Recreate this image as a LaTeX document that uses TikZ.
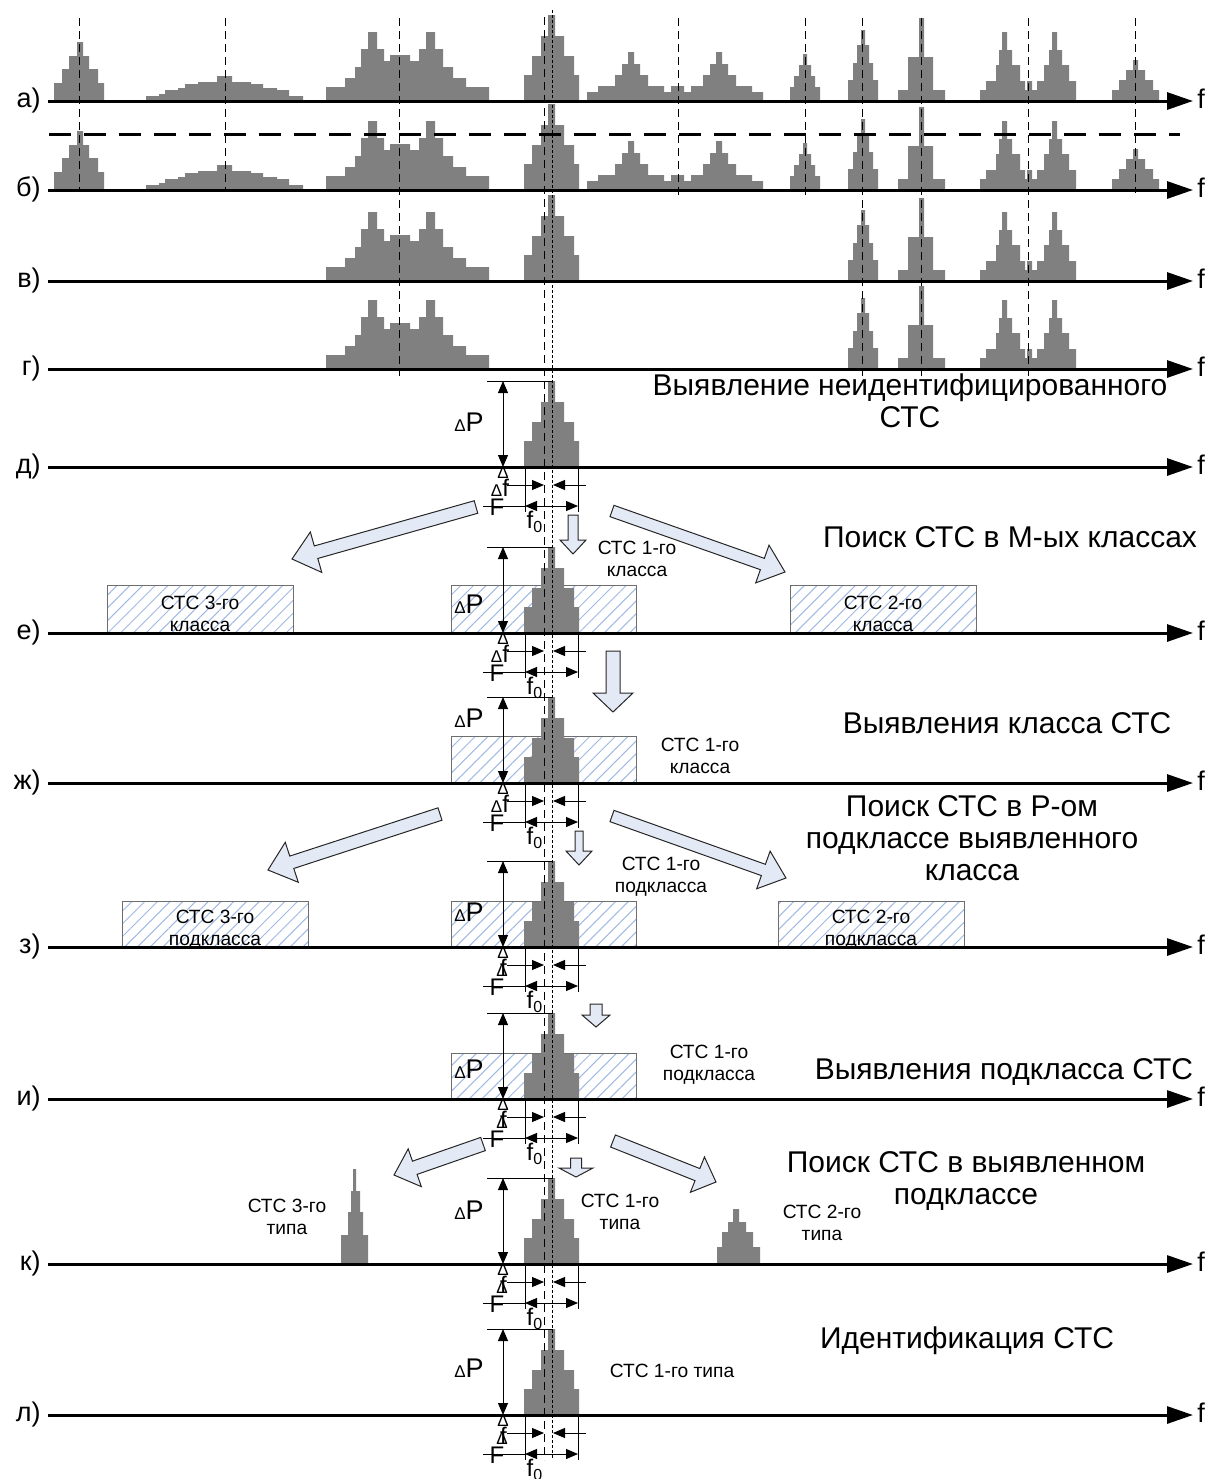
\documentclass[tikz,border=0pt]{standalone}
\usepackage{fontspec}
\setmainfont{Liberation Sans}
\usetikzlibrary{arrows.meta,patterns.meta}

\definecolor{peakgray}{RGB}{128,128,128}
\definecolor{hatchblue}{RGB}{160,185,225}
\definecolor{boxgray}{RGB}{110,110,110}
\definecolor{arrowfill}{RGB}{228,234,245}

\newcommand\bigfont{\fontsize{15}{16}\selectfont}
\newcommand\rowfont{\fontsize{13.5}{14}\selectfont}
\newcommand\pfont{\fontsize{13.5}{14}\selectfont}
\newcommand\midfont{\fontsize{12}{13}\selectfont}
\newcommand\smallfont{\fontsize{9.6}{11}\selectfont}
\newcommand\deltafont{\fontsize{8.5}{9}\selectfont}

\tikzset{
  x=0.5pt, y=-0.5pt,
  guide/.style={dash pattern=on 4pt off 2.5pt, line width=0.5pt},
  guidefine/.style={dash pattern=on 1.5pt off 1pt, line width=0.5pt},
  axisline/.style={line width=1.5pt, -{Triangle[length=13pt,width=8.5pt]}},
  sepline/.style={line width=1.5pt, dash pattern=on 11pt off 6.5pt},
  hatchbox/.style={draw=boxgray, line width=0.5pt,
    pattern={Lines[angle=45,distance=4.5pt,line width=0.5pt]}, pattern color=hatchblue},
  dimline/.style={line width=0.5pt},
  tip/.style={-{Triangle[length=6pt,width=5pt]}},
  tips/.style={{Triangle[length=6pt,width=5pt]}-{Triangle[length=6pt,width=5pt]}},
  rowlbl/.style={anchor=base east, inner sep=0pt, font=\rowfont},
  flbl/.style={anchor=base west, inner sep=0pt, font=\rowfont},
  head/.style={align=center, inner sep=0pt, font=\bigfont},
  note/.style={align=center, inner sep=0pt, font=\smallfont},
  dimtext/.style={inner sep=0pt, font=\midfont},
  blockarr/.style={fill=arrowfill, draw=black!85, line width=0.5pt, line join=miter},
}

% stepped spectrum on the axis \axY: first x, then x/height breakpoints
\newcommand\spec[2]{\fill[peakgray] (#1,\axY) \foreach \x/\h in {#2} { -| (\x,\axY-\h) } -- cycle;}

\newcommand\pkA{\spec{54}{54/18,62/32,69/45,77/59,83/45,89/32,98/18,104/0}}
\newcommand\pkB{\spec{146}{146/5,159/7,165/11,178/13,185/17,198/19,217/25,232/19,251/17,263/13,277/11,289/5,303/0}}
\newcommand\pkC{\spec{326}{326/14,345/23,355/34,361/52,368/69,377/52,384/40,390/46,410/40,419/52,426/69,435/52,443/34,453/23,466/14,489/0}}
\newcommand\pkD{\spec{524}{524/26,532/45,541/65,548/86,555/65,564/45,574/26,579/0}}
\newcommand\pkE{\spec{587}{587/9,598/15,615/26,622/37,628/49,634/37,640/26,648/15,664/9,671/15,684/9,691/15,703/26,710/37,716/49,722/37,728/26,736/15,752/9,763/0}}
\newcommand\pkF{\spec{790}{790/14,794/25,799/36,803/47,807/36,811/25,815/14,820/0}}
\newcommand\pkG{\spec{848}{848/21,853/38,857/56,861/71,865/56,869/38,873/21,878/0}}
\newcommand\pkH{\spec{898}{898/11,908/44,919/83,924/44,933/11,945/0}}
\newcommand\pkI{\spec{980}{980/11,986/20,996/36,999/51,1002/69,1007/51,1012/36,1020/20,1025/11,1027/20,1032/11,1037/20,1044/36,1049/51,1052/69,1057/51,1062/36,1069/20,1076/0}}
\newcommand\pkJ{\spec{1112}{1112/11,1119/21,1126/31,1133/41,1138/31,1145/21,1153/11,1159/0}}
\newcommand\pkK{\spec{341}{341/29,348/52,351/73,353/95,356/73,360/52,363/29,368/0}}
\newcommand\pkL{\spec{717}{717/17,722/32,728/42,733/55,739/42,746/32,753/17,760/0}}

% frequency axis with its row letter and the f label
\newcommand\freqaxis[3]{%
  \draw[axisline] (48,#1) -- (1193,#1);
  \node[rowlbl] (lab#3) at (41,#1+6) {#2};
  \node[flbl] (f#3) at (1197,#1+7) {f};}

% dimensioning of the central signal: axis y, y of the DeltaP label, tag, label form
\newcommand\dims[4]{%
  \draw[dimline] (487,#1-86) -- (553,#1-86);
  \draw[dimline,tips] (503,#1-86) -- (503,#1);
  \node[inner sep=0pt, font=\pfont] (dP#3) at (469,#2) {{\deltafont Δ}P};
  \node[inner sep=0pt, font=\deltafont] (dm#3) at (503,#1+6) {Δ};
  \draw[dimline] (525,#1) -- (525,#1+45);
  \draw[dimline] (578,#1) -- (578,#1+45);
  \draw[dimline,tip] (507,#1+18) -- (544,#1+18);
  \draw[dimline,tip] (586,#1+18) -- (553,#1+18);
  \draw[dimline] (483,#1+39) -- (525,#1+39);
  \draw[dimline,tips] (525,#1+39) -- (578,#1+39);
  \node[dimtext] (F#3) at (497,#1+40) {F};
  \node[dimtext] (fz#3) at (535,#1+55) {f\textsubscript{0}};
  \ifnum#4=0
    \node[dimtext] (df#3) at (500,#1+21) {{\deltafont Δ}f};
  \else
    \node[dimtext] (df#3) at (502,#1+21) {\makebox[0pt]{\deltafont Δ}\makebox[0pt][l]{\kern-1pt f}};
  \fi}

% block arrow: tail centre, tip, half shaft width, half head width, head length
\newcommand\barrow[7]{%
  \pgfmathsetmacro\dxx{#3-#1}%
  \pgfmathsetmacro\dyy{#4-#2}%
  \pgfmathsetmacro\len{100*veclen(\dxx/100,\dyy/100)}%
  \pgfmathsetmacro\ux{\dxx/\len}%
  \pgfmathsetmacro\uy{\dyy/\len}%
  \pgfmathsetmacro\bx{#3-#7*\ux}%
  \pgfmathsetmacro\by{#4-#7*\uy}%
  \pgfmathsetmacro\ta{#1-#5*\uy}\pgfmathsetmacro\tb{#2+#5*\ux}%
  \pgfmathsetmacro\tc{#1+#5*\uy}\pgfmathsetmacro\td{#2-#5*\ux}%
  \pgfmathsetmacro\sa{\bx-#5*\uy}\pgfmathsetmacro\sb{\by+#5*\ux}%
  \pgfmathsetmacro\sc{\bx+#5*\uy}\pgfmathsetmacro\sd{\by-#5*\ux}%
  \pgfmathsetmacro\ha{\bx-#6*\uy}\pgfmathsetmacro\hb{\by+#6*\ux}%
  \pgfmathsetmacro\hc{\bx+#6*\uy}\pgfmathsetmacro\hd{\by-#6*\ux}%
  \filldraw[blockarr] (\ta,\tb) -- (\sa,\sb) -- (\ha,\hb) -- (#3,#4) -- (\hc,\hd) -- (\sc,\sd) -- (\tc,\td) -- cycle;}

\begin{document}
\begin{tikzpicture}
\useasboundingbox (0,0) rectangle (1211,1479);

% hatched class / subclass bands
\draw[hatchbox] (107,585) rectangle (293,633);
\draw[hatchbox] (451,585) rectangle (636,633);
\draw[hatchbox] (790,585) rectangle (976,633);
\draw[hatchbox] (451,736) rectangle (636,783);
\draw[hatchbox] (122,901) rectangle (308,947);
\draw[hatchbox] (451,901) rectangle (636,947);
\draw[hatchbox] (778,901) rectangle (964,947);
\draw[hatchbox] (451,1053) rectangle (636,1099);

% spectra
\def\axY{101}\pkA\pkB\pkC\pkD\pkE\pkF\pkG\pkH\pkI\pkJ
\def\axY{190}\pkA\pkB\pkC\pkD\pkE\pkF\pkG\pkH\pkI\pkJ
\def\axY{281}\pkC\pkD\pkG\pkH\pkI
\def\axY{369}\pkC\pkG\pkH\pkI
\def\axY{467}\pkD
\def\axY{633}\pkD
\def\axY{783}\pkD
\def\axY{947}\pkD
\def\axY{1099}\pkD
\def\axY{1264}\pkD\pkK\pkL
\def\axY{1415}\pkD

% centre-frequency guides
\foreach \gx/\gy in {79/191, 225/191, 399/376, 678/197, 805/197, 862/376, 921/376, 1028/376, 1135/193}
  \draw[guide] (\gx,18) -- (\gx,\gy);
\draw[guide] (544,17) -- (544,1460);
\draw[guidefine] (552,10) -- (552,1460);

% threshold line
\draw[sepline] (49,134) -- (1180,134);

% axes
\freqaxis{101}{а)}{a}
\freqaxis{190}{б)}{b}
\freqaxis{281}{в)}{v}
\freqaxis{369}{г)}{g}
\freqaxis{467}{д)}{d}
\freqaxis{633}{е)}{e}
\freqaxis{783}{ж)}{zh}
\freqaxis{947}{з)}{z}
\freqaxis{1099}{и)}{i}
\freqaxis{1264}{к)}{k}
\freqaxis{1415}{л)}{l}

% dimensions of the signal under analysis
\dims{467}{422}{d}{0}
\dims{633}{604}{e}{0}
\dims{783}{718}{zh}{0}
\dims{947}{912}{z}{1}
\dims{1099}{1069}{i}{1}
\dims{1264}{1210}{k}{1}
\dims{1415}{1368}{l}{1}

% stage headings
\node[head] (h1) at (910,401) {Выявление неидентифицированного\\СТС};
\node[head] (h2) at (1010,537) {Поиск СТС в М-ых классах};
\node[head] (h3) at (1007,723) {Выявления класса СТС};
\node[head] (h4) at (972,838) {Поиск СТС в Р-ом\\подклассе выявленного\\класса};
\node[head] (h5) at (1004,1072) {Выявления подкласса СТС};
\node[head] (h6) at (966,1181) {Поиск СТС в выявленном\\подклассе};
\node[head] (h7) at (967,1341) {Идентификация СТС};

% class, subclass and type labels
\node[note] (c3) at (200,614) {СТС 3-го\\класса};
\node[note] (c2) at (883,614) {СТС 2-го\\класса};
\node[note] (c1) at (637,559) {СТС 1-го\\класса};
\node[note] (c1b) at (700,756) {СТС 1-го\\класса};
\node[note] (s3) at (215,930) {СТС 3-го\\подкласса};
\node[note] (s2) at (871,930) {СТС 2-го\\подкласса};
\node[note] (s1) at (661,877) {СТС 1-го\\подкласса};
\node[note] (s1b) at (709,1065) {СТС 1-го\\подкласса};
\node[note] (t3) at (287,1217) {СТС 3-го\\типа};
\node[note] (t1) at (620,1212) {СТС 1-го\\типа};
\node[note] (t2) at (822,1223) {СТС 2-го\\типа};
\node[note] (t1b) at (672,1371) {СТС 1-го типа};

% search arrows
\barrow{476}{507}{292}{559}{6.5}{21}{25}
\barrow{612}{511}{785}{572}{6}{20}{24}
\barrow{573}{515}{573}{554}{5}{13}{14}
\barrow{613}{651}{613}{712}{7}{20}{19}
\barrow{440}{814}{268}{870}{6.5}{21}{25}
\barrow{612}{816}{786}{878}{6}{20}{24}
\barrow{579}{831}{579}{865}{4}{13}{14}
\barrow{596}{1004}{596}{1027}{6}{14}{12}
\barrow{483}{1144}{394}{1175}{7}{20}{22}
\barrow{613}{1141}{716}{1182}{6.5}{19}{20}
\barrow{576}{1158}{576}{1177}{5.5}{17}{9}
\end{tikzpicture}
\end{document}
